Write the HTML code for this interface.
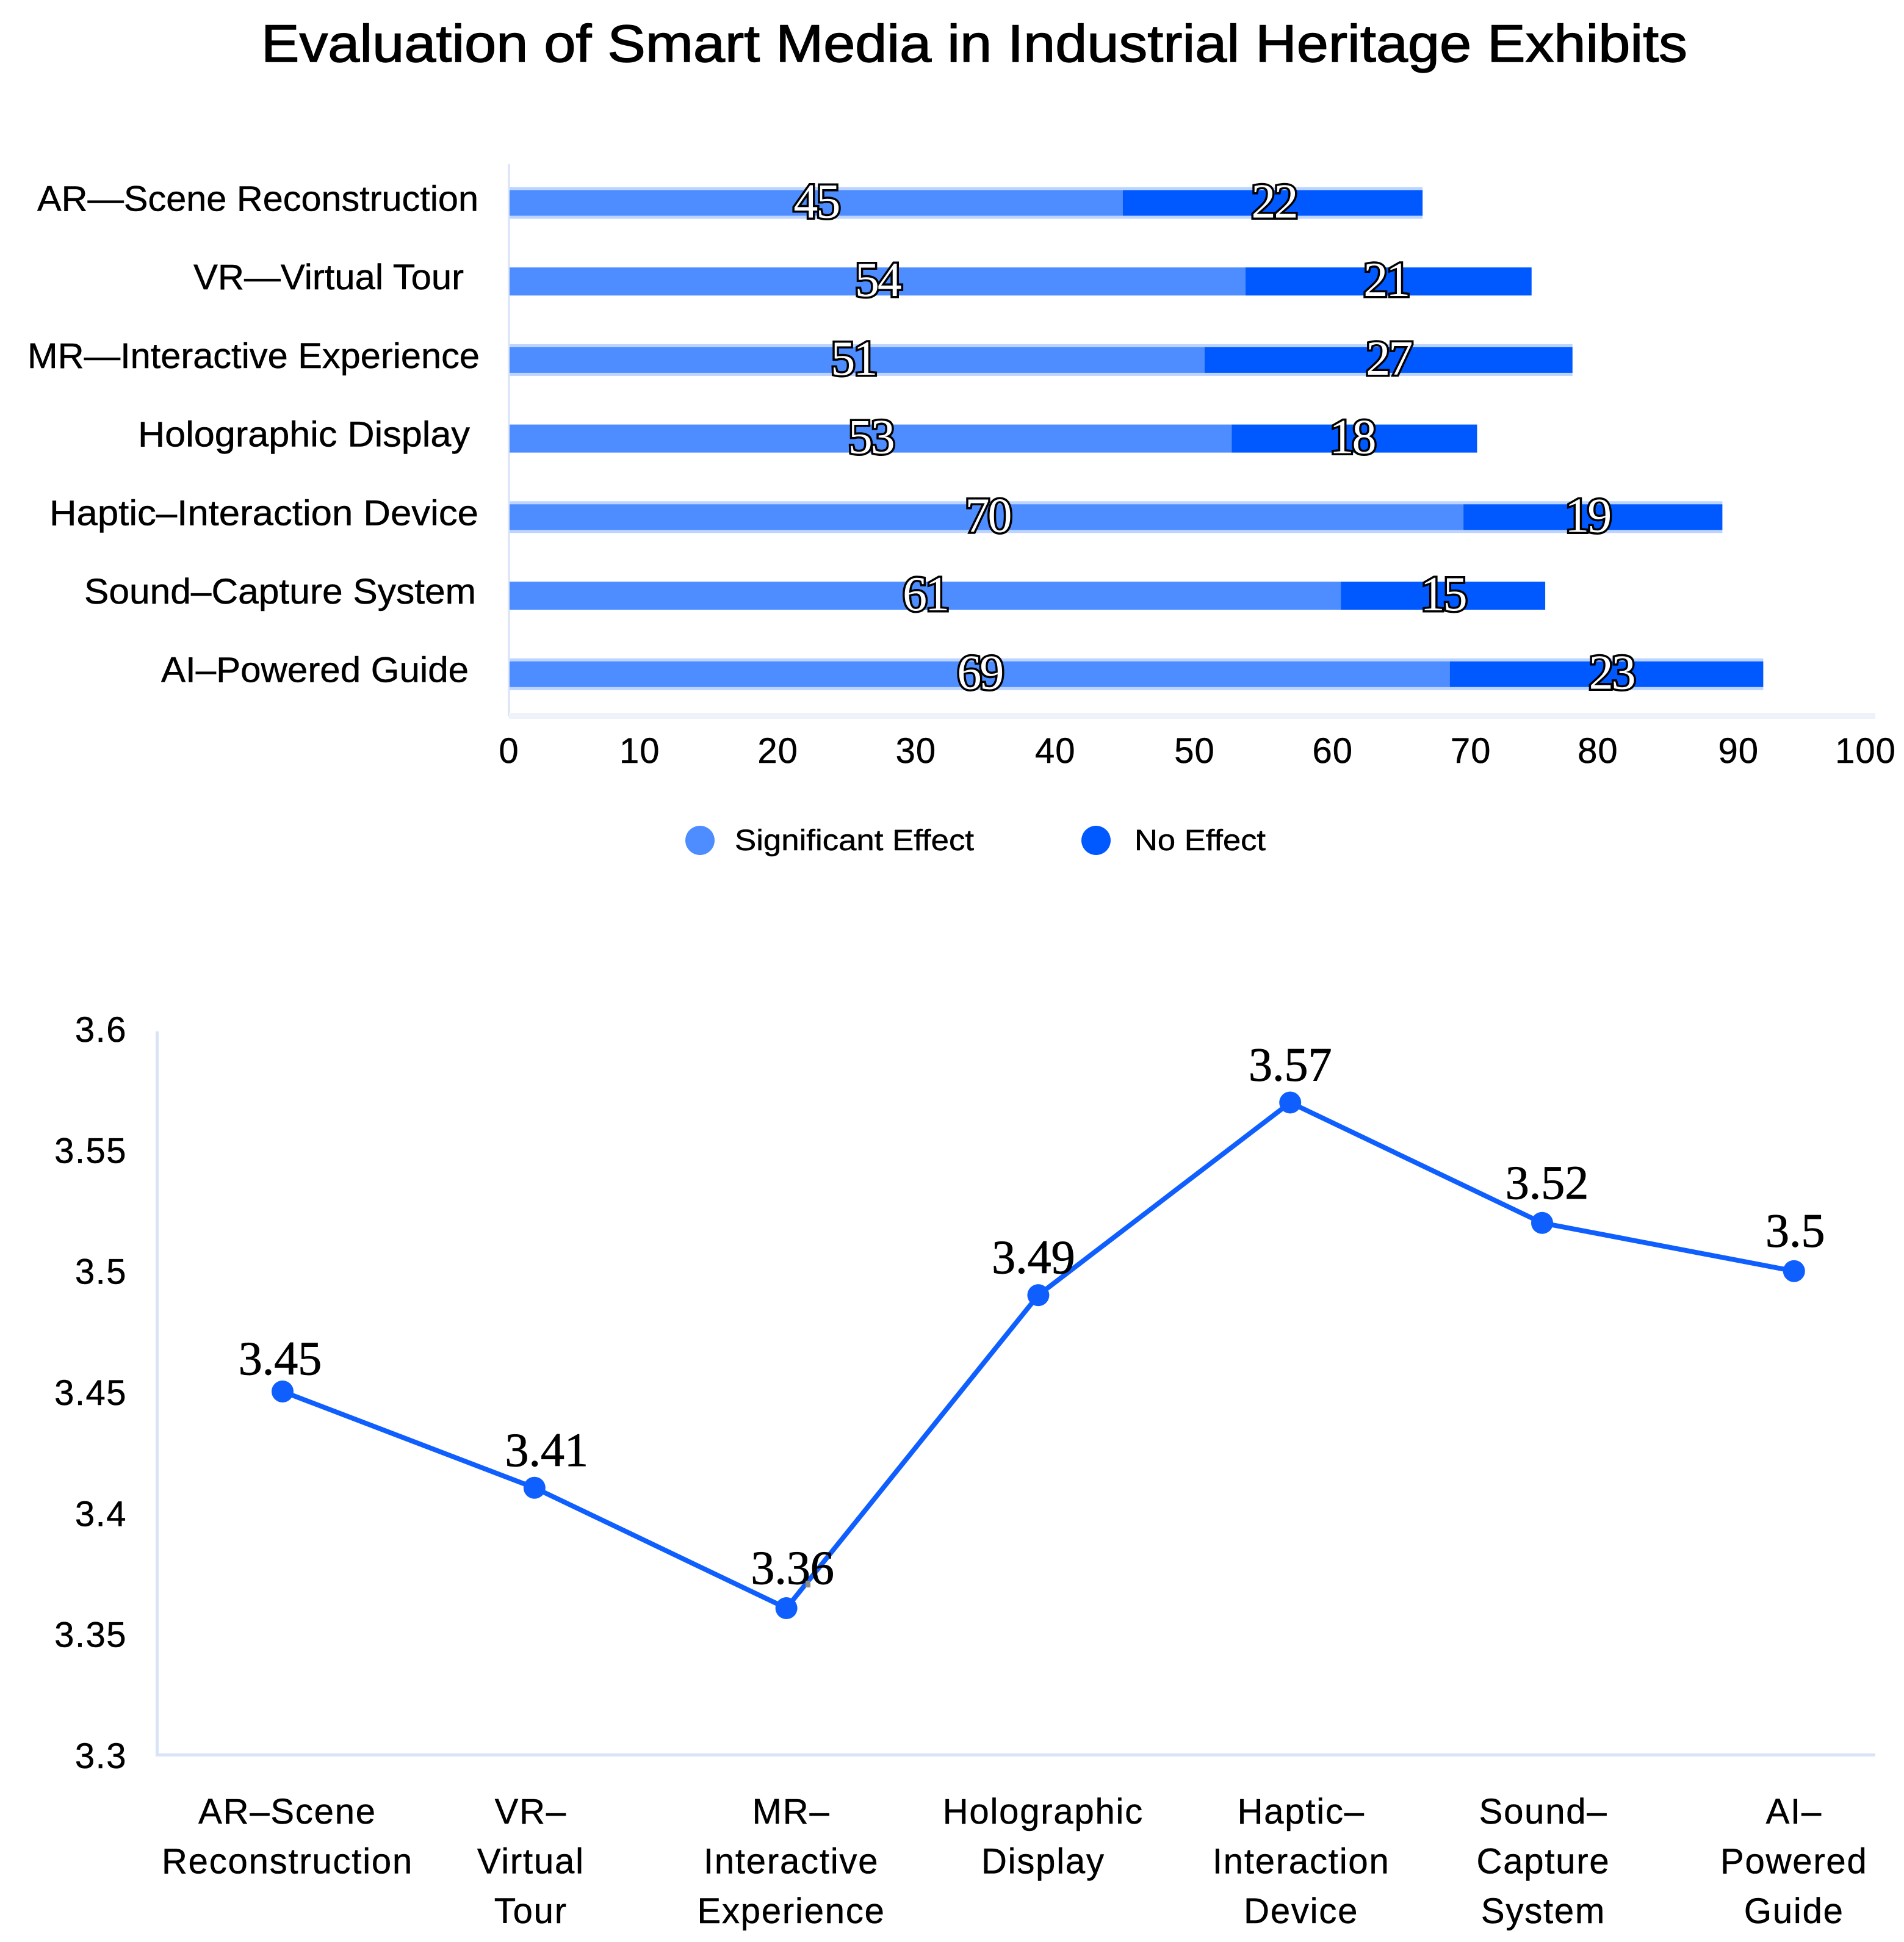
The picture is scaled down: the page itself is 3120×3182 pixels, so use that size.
<!DOCTYPE html>
<html lang="en">
<head>
<meta charset="utf-8">
<title>Evaluation of Smart Media in Industrial Heritage Exhibits</title>
<style>
html,body{margin:0;padding:0;background:#fff;}
svg{display:block;}
text{font-family:"Liberation Sans",sans-serif;fill:#000;}
.serif{font-family:"Liberation Serif",serif;}
</style>
</head>
<body>
<svg id="chart" xmlns="http://www.w3.org/2000/svg" width="3120" height="3182" viewBox="0 0 3120 3182">
<rect x="0" y="0" width="3120" height="3182" fill="#ffffff"/>
<text x="428" y="101" font-size="86" stroke="#000" stroke-width="1.4" textLength="2337" lengthAdjust="spacingAndGlyphs">Evaluation of Smart Media in Industrial Heritage Exhibits</text>
<rect x="832" y="269" width="4" height="905" fill="#dde7f8"/>
<rect x="834" y="1168" width="2239" height="10" fill="#eef2f9"/>
<circle cx="1147" cy="1377" r="24" fill="#4d8dff"/>
<text x="1204" y="1393" font-size="48" stroke="#000" stroke-width="0.5" textLength="392" lengthAdjust="spacingAndGlyphs">Significant Effect</text>
<circle cx="1796" cy="1377" r="24" fill="#0059ff"/>
<text x="1859" y="1393" font-size="48" stroke="#000" stroke-width="0.5" textLength="215" lengthAdjust="spacingAndGlyphs">No Effect</text>
<rect x="255" y="1690" width="5" height="1188" fill="#d9e3f6"/>
<rect x="257" y="2873" width="2816" height="5" fill="#d9e3f6"/>
</svg>
<script>
const barCategories = ["AR—Scene Reconstruction", "VR—Virtual Tour", "MR—Interactive Experience", "Holographic Display", "Haptic–Interaction Device", "Sound–Capture System", "AI–Powered Guide"];
const significantEffect = [45, 54, 51, 53, 70, 61, 69];
const noEffect = [22, 21, 27, 18, 19, 15, 23];
const barTicks = [0, 10, 20, 30, 40, 50, 60, 70, 80, 90, 100];

const lineCategories = [["AR–Scene", "Reconstruction"], ["VR–", "Virtual", "Tour"], ["MR–", "Interactive", "Experience"], ["Holographic", "Display"], ["Haptic–", "Interaction", "Device"], ["Sound–", "Capture", "System"], ["AI–", "Powered", "Guide"]];
const meanScores = [3.45, 3.41, 3.36, 3.49, 3.57, 3.52, 3.5];
const scoreTicks = [3.3, 3.35, 3.4, 3.45, 3.5, 3.55, 3.6];

const rowLabelRight = [784, 760, 786, 770, 784, 780, 768];
const rowLabelWidth = [723, 443, 741, 544, 703, 642, 504];
const barTickNudge = [0, -8, -4, 0, 6, 12, 16, 20, 6, 14, 0];
const significantLabelNudge = [0, 0, -6, 0, 2, 0, 0];
const noEffectLabelNudge = [2, -4, 0, -4, -9, 0, 8];
const scoreLabelNudgeX = [-4, 20, 10, -8, 0, 8, 2];
const scoreLabelNudgeY = [12, 4, 0, 4, 4, 0, 0];
const categoryLabelNudge = [8, -6, 8, 8, 18, 2, 0];

const NS = "http://www.w3.org/2000/svg";
const svg = document.getElementById("chart");

function xBar(v) { return 835 + v * 22.33; }
function xBarTick(v) { return 834 + v * 22.23; }
function yBar(i) { return 332.5 + i * 128.7; }
function xLine(i) { return 463 + i * 412.8; }
function yLine(v) { return 2635 - (v - 3.36) * 3945; }
function yScoreTick(v) { return 2880 - (v - 3.3) * 3967; }

function make(tag, attrs, text) {
  const el = document.createElementNS(NS, tag);
  for (const k in attrs) el.setAttribute(k, attrs[k]);
  if (text !== undefined) el.textContent = text;
  svg.appendChild(el);
  return el;
}

barCategories.forEach(function (name, i) {
  const cy = yBar(i);
  const odd = i % 2 === 1;
  const coreH = odd ? 46 : 42;
  const a = significantEffect[i];
  const b = noEffect[i];
  if (!odd) {
    const halo = make("rect", { x: xBar(0), y: cy - 26, width: xBar(a + b) - xBar(0), height: 52, fill: "#bcd4ff" });
    
    
  }
  const s1 = make("rect", { x: xBar(0), y: cy - coreH / 2, width: xBar(a) - xBar(0), height: coreH, fill: "#4d8dff" });
  
  
  const s2 = make("rect", { x: xBar(a), y: cy - coreH / 2, width: xBar(a + b) - xBar(a), height: coreH, fill: "#0059ff" });
  
  
  const lab = make("text", { x: rowLabelRight[i], y: cy + 13, "font-size": 58, "text-anchor": "end", stroke: "#000", "stroke-width": 0.5, textLength: rowLabelWidth[i], lengthAdjust: "spacingAndGlyphs" }, name);
  
  
});

barCategories.forEach(function (name, i) {
  const cy = yBar(i);
  const a = significantEffect[i];
  const b = noEffect[i];
  const attrs = { y: cy + 24, "font-size": 80, "text-anchor": "middle", "class": "serif", stroke: "#000", "stroke-width": 7, "paint-order": "stroke", style: "fill:#fff", "letter-spacing": "-3" };
  attrs.x = xBar(a / 2) + significantLabelNudge[i];
  const v1 = make("text", attrs, String(a));
  
  
  attrs.x = xBar(a + b / 2) + noEffectLabelNudge[i];
  const v2 = make("text", attrs, String(b));
  
  
});

barTicks.forEach(function (t, i) {
  const el = make("text", { x: xBarTick(t) + barTickNudge[i], y: 1250, "font-size": 58, "text-anchor": "middle", stroke: "#000", "stroke-width": 0.5, "letter-spacing": "1" }, String(t));
  
  
});

scoreTicks.forEach(function (t) {
  const el = make("text", { x: 208, y: yScoreTick(t) + 17, "font-size": 58, "text-anchor": "end", stroke: "#000", "stroke-width": 0.5, "letter-spacing": "1.5" }, String(t));
  
  
});

const linePoints = meanScores.map(function (v, i) { return xLine(i) + "," + yLine(v); }).join(" ");
const scoreLine = make("polyline", { points: linePoints, fill: "none", stroke: "#0f5fff", "stroke-width": 8, "stroke-linejoin": "round" });



meanScores.forEach(function (v, i) {
  const dot = make("circle", { cx: xLine(i), cy: yLine(v), r: 18, fill: "#0f5fff" });
  
  
  const lab = make("text", { x: xLine(i) + scoreLabelNudgeX[i], y: yLine(v) - 40 + scoreLabelNudgeY[i], "font-size": 78, "text-anchor": "middle", "class": "serif", stroke: "#000", "stroke-width": 0.9 }, String(v));
  
  
});

lineCategories.forEach(function (lines, i) {
  lines.forEach(function (line, j) {
    const el = make("text", { x: xLine(i) + categoryLabelNudge[i], y: 2988 + j * 81.5, "font-size": 58, "text-anchor": "middle", stroke: "#000", "stroke-width": 0.5, "letter-spacing": "1.8" }, line);
    
    
  });
});

const artifact = make("rect", { x: 1320, y: 2590, width: 8, height: 11, fill: "#8a8a8a" });


</script>
</body>
</html>
